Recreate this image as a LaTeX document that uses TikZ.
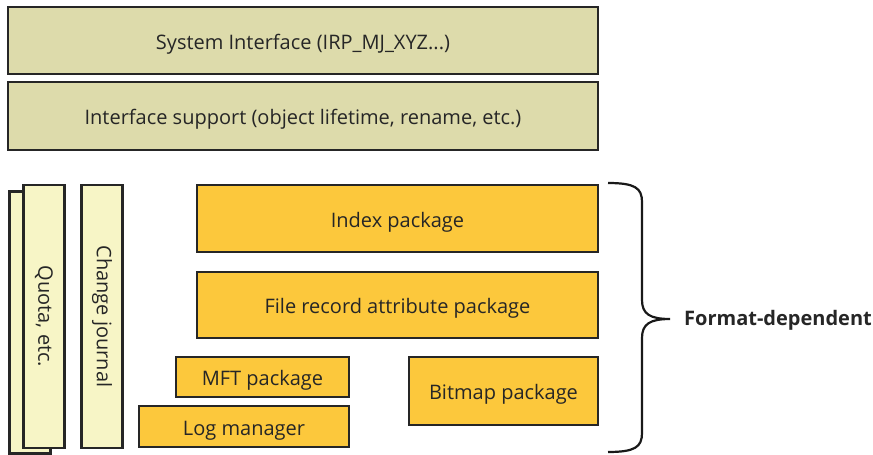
\documentclass[tikz,border=0pt]{standalone}
\usepackage{fontspec}
\setmainfont{Open Sans}
\begin{document}
\begin{tikzpicture}[x=1pt,y=-1pt,
  txt/.style={font=\fontsize{20}{24}\selectfont, text=black!85},
  base/.style={draw=black!85, line width=2.5pt, inner sep=0pt, txt},
  hbox/.style={text height=17, text depth=0},
  beige/.style={base, hbox, fill=beigec},
  pale/.style={base, fill=palec},
  orange/.style={base, hbox, fill=orangec}]
\definecolor{beigec}{HTML}{DDDBAB}
\definecolor{palec}{HTML}{F7F5C6}
\definecolor{orangec}{HTML}{FCC83C}
\useasboundingbox (0,0) rectangle (873,455);
% top layers
\node[beige, minimum width=590, minimum height=67] (sys) at (303,40.5) {System Interface (IRP\_MJ\_XYZ...)};
\node[beige, minimum width=590, minimum height=68] (isup) at (303,116) {Interface support (object lifetime, rename, etc.)};
% left columns
\node[pale, minimum width=41, minimum height=262] (quotab) at (30,322.5) {};
\node[pale, minimum width=41, minimum height=263] (quota) at (44,316.5) {};
\node[rotate=-90, txt] (quotat) at (quota.center) {Quota, etc.};
\node[pale, minimum width=41, minimum height=263] (cj) at (102,316.5) {};
\node[rotate=-90, txt] (cjt) at (cj.center) {Change journal};
% packages
\node[orange, minimum width=401, minimum height=67] (idx) at (397.5,218.5) {Index package};
\node[orange, minimum width=401, minimum height=66] (frec) at (397.5,305) {File record attribute package};
\node[orange, minimum width=173, minimum height=40] (mft) at (262.5,377) {MFT package};
\node[orange, minimum width=210, minimum height=41] (log) at (244,426.5) {Log manager};
\node[orange, minimum width=189, minimum height=68] (bmp) at (503.5,391) {Bitmap package};
% brace
\coordinate (btop) at (608,183);
\coordinate (bbot) at (608,452);
\coordinate (btip) at (670,319);
\draw[line width=2.2pt, black!90]
  (btop) .. controls (635,183) and (642,188) .. (642,202)
  -- (642,300) .. controls (642,314) and (650,319) .. (btip)
  .. controls (650,319) and (642,324) .. (642,338)
  -- (642,433) .. controls (642,447) and (635,452) .. (bbot);
\node[anchor=west, inner sep=0pt, txt, font=\fontsize{20}{24}\selectfont\bfseries] (fd) at (684,320) {Format-dependent};
\end{tikzpicture}
\end{document}
